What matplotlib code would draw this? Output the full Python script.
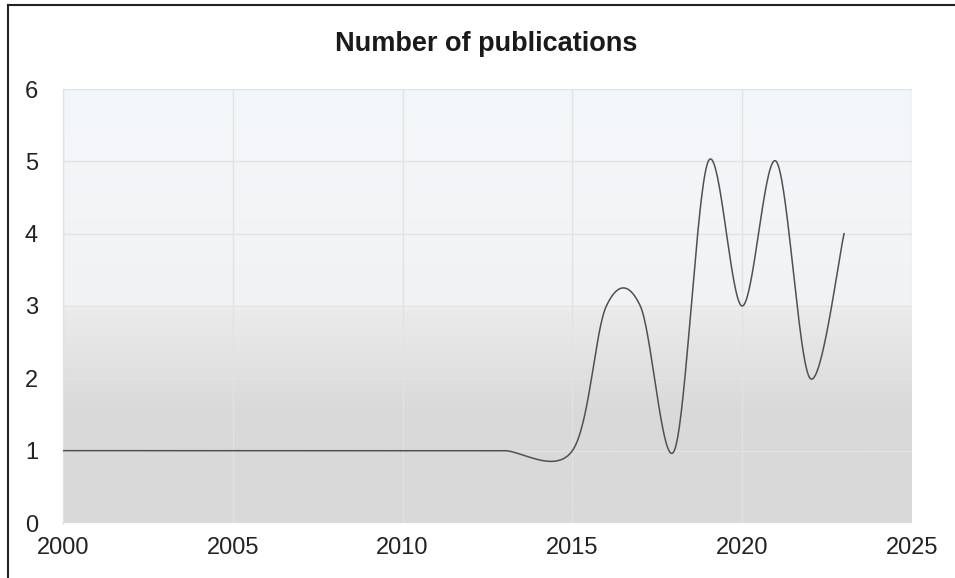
import numpy as np
import matplotlib.pyplot as plt
from matplotlib.colors import LinearSegmentedColormap

plt.rcParams['font.family'] = ['Liberation Sans', 'DejaVu Sans']

# Data
years = [2000, 2001, 2002, 2003, 2004, 2005, 2006, 2007, 2008, 2009, 2010,
         2011, 2012, 2013, 2015, 2016, 2017, 2018, 2019, 2020, 2021, 2022, 2023]
counts = [1, 1, 1, 1, 1, 1, 1, 1, 1, 1, 1,
          1, 1, 1, 1, 3, 3, 1, 5, 3, 5, 2, 4]
x_ticks = [2000, 2005, 2010, 2015, 2020, 2025]
y_ticks = [0, 1, 2, 3, 4, 5, 6]


# Excel-like smoothed line: cubic Bezier segments, control points from neighbours
def smooth_line(xs, ys, n=60):
    p = np.column_stack([xs, ys]).astype(float)
    out = []
    for i in range(len(p) - 1):
        p0 = p[i - 1] if i > 0 else p[i]
        p1, p2 = p[i], p[i + 1]
        p3 = p[i + 2] if i + 2 < len(p) else p[i + 1]
        c1 = p1 + (p2 - p0) / 6
        c2 = p2 - (p3 - p1) / 6
        t = np.linspace(0, 1, n)[:, None]
        seg = ((1 - t) ** 3) * p1 + 3 * ((1 - t) ** 2) * t * c1 + 3 * (1 - t) * t ** 2 * c2 + t ** 3 * p2
        out.append(seg)
    out = np.vstack(out)
    return out[:, 0], out[:, 1]


fig = plt.figure(figsize=(9.55, 5.78), dpi=100)
ax = fig.add_axes([63 / 955, 55 / 578, 849 / 955, 434 / 578])

# background gradient (grey at bottom, pale blue at top)
bg = LinearSegmentedColormap.from_list('bg', [
    (0.0, '#d9d9d9'), (0.25, '#d9d9d9'), (0.49, '#ebebeb'),
    (0.5, '#f1f2f4'), (1.0, '#f4f7fa')])
grad = np.linspace(0, 1, 256)[:, None]
ax.imshow(grad, cmap=bg, aspect='auto', origin='lower',
          extent=[2000, 2025, 0, 6], zorder=0)

sx, sy = smooth_line(years, counts)
ax.plot(sx, sy, color='#505050', lw=1.1, zorder=3)

ax.set_xlim(2000, 2025)
ax.set_ylim(0, 6)
ax.set_xticks(x_ticks)
ax.set_yticks(y_ticks)
ax.grid(True, color='#e2e2e2', lw=1, zorder=1)
ax.set_axisbelow(False)
for s in ax.spines.values():
    s.set_visible(False)
ax.spines['left'].set_visible(True)
ax.spines['left'].set_color('#cccccc')
ax.tick_params(length=0, labelsize=17, colors='#222222')
ax.tick_params(axis='y', pad=18)
ax.tick_params(axis='x', pad=10)

fig.text(486 / 955, 1 - 44 / 578, 'Number of publications', ha='center', va='center',
         fontsize=19.5, fontweight='bold', color='#1a1a1a')

# frame lines of the cropped chart box
fig.add_artist(plt.Line2D([7.5 / 955, 7.5 / 955], [0, 1 - 5 / 578], color='#222222', lw=1.5))
fig.add_artist(plt.Line2D([7.5 / 955, 1], [1 - 5 / 578, 1 - 5 / 578], color='#222222', lw=1.5))

fig.savefig('out.png', dpi=100)
